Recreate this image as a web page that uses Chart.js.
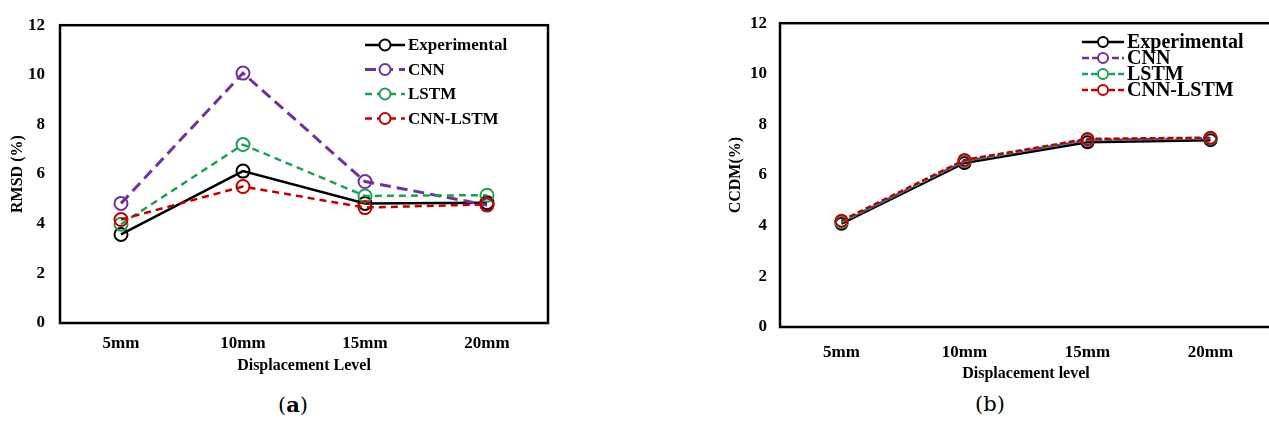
<!DOCTYPE html>
<html>
<head>
<meta charset="utf-8">
<script src="https://cdn.jsdelivr.net/npm/chart.js@4.4.1/dist/chart.umd.min.js"></script>
<style>
    html, body { margin: 0; padding: 0; background: #fff; }
    body { width: 1269px; height: 426px; overflow: hidden; position: relative; }
    .box { position: absolute; }
    .caption { position: absolute; top: 392px; font-family: "DejaVu Serif", serif; font-size: 21px; color: #000; }
</style>
</head>
<body>
<div class="box" id="boxA" style="left:0;top:0;width:560px;height:380px;"><canvas id="chartA"></canvas></div>
<div class="box" id="boxB" style="left:720px;top:0;width:560px;height:390px;"><canvas id="chartB"></canvas></div>
<div class="caption" style="left:278px;">(<b>a</b>)</div>
<div class="caption" style="left:975px;">(b)</div>

<script>
// Data
const levels = ['5mm', '10mm', '15mm', '20mm'];
const seriesNames = ['Experimental', 'CNN', 'LSTM', 'CNN-LSTM'];

// (a) RMSD (%)
const rmsdExperimental = [3.57, 6.12, 4.82, 4.85];
const rmsdCnn = [4.82, 10.07, 5.7, 4.75];
const rmsdLstm = [3.98, 7.19, 5.12, 5.15];
const rmsdCnnLstm = [4.17, 5.5, 4.65, 4.78];

// (b) CCDM (%)
const ccdmExperimental = [4.08, 6.48, 7.3, 7.38];
const ccdmCnn = [4.14, 6.55, 7.38, 7.45];
const ccdmLstm = [4.15, 6.56, 7.4, 7.46];
const ccdmCnnLstm = [4.2, 6.6, 7.43, 7.48];

const yTicks = [0, 2, 4, 6, 8, 10, 12];

const colors = ['#000000', '#7030A0', '#1FA050', '#C00000'];

const FONT = '"Liberation Serif", "Times New Roman", serif';

// frame round the plot area + legend drawn inside it
const framePlugin = {
    id: 'frame',
    afterDraw(chart, args, opts) {
        const ctx = chart.ctx;
        const a = chart.chartArea;
        ctx.save();
        ctx.strokeStyle = '#000';
        ctx.lineWidth = opts.lineWidth;
        ctx.strokeRect(a.left, a.top, a.right - a.left, a.bottom - a.top);

        // legend
        const lg = opts.legend;
        ctx.font = 'bold ' + lg.fontSize + 'px ' + FONT;
        ctx.textBaseline = 'middle';
        ctx.textAlign = 'left';
        chart.data.datasets.forEach((ds, i) => {
            const y = lg.y + i * lg.step;
            ctx.strokeStyle = ds.borderColor;
            ctx.lineWidth = ds.borderWidth;
            ctx.setLineDash(ds.borderDash || []);
            ctx.beginPath();
            ctx.moveTo(lg.x, y);
            ctx.lineTo(lg.x + lg.lineLen, y);
            ctx.stroke();
            ctx.setLineDash([]);
            ctx.lineWidth = 2;
            ctx.beginPath();
            ctx.arc(lg.x + lg.lineLen / 2, y, lg.r, 0, Math.PI * 2);
            ctx.fillStyle = '#fff';
            ctx.fill();
            ctx.stroke();
            ctx.fillStyle = '#000';
            ctx.fillText(ds.label, lg.x + lg.lineLen + 3, y + 1);
        });
        ctx.restore();
    }
};

function makeDatasets(values, dashes, widths, radius) {
    return values.map((v, i) => ({
        label: seriesNames[i],
        data: v,
        borderColor: colors[i],
        borderWidth: widths[i],
        borderDash: dashes[i],
        pointRadius: radius,
        pointBorderWidth: 2,
        pointBackgroundColor: 'rgba(255,255,255,0)',
        pointBorderColor: colors[i],
        tension: 0,
        fill: false,
        order: 3 - i
    }));
}

function makeChart(id, datasets, cfg) {
    const ctx = document.getElementById(id).getContext('2d');
    return new Chart(ctx, {
        type: 'line',
        data: { labels: levels, datasets: datasets },
        plugins: [framePlugin],
        options: {
            responsive: true,
            maintainAspectRatio: false,
            animation: false,
            layout: { padding: { top: cfg.top, right: cfg.right, left: 0, bottom: 0 } },
            plugins: {
                legend: { display: false },
                tooltip: { enabled: false },
                frame: { lineWidth: 2.5, legend: cfg.legend }
            },
            scales: {
                x: {
                    offset: true,
                    grid: { display: false, drawTicks: false },
                    border: { display: false },
                    ticks: { color: '#000', padding: cfg.xPad, font: { family: FONT, size: 17, weight: 'bold' } },
                    title: {
                        display: true, text: cfg.xTitle, color: '#000',
                        padding: { top: 0, bottom: cfg.xTitlePad },
                        font: { family: FONT, size: 16, weight: 'bold' }
                    },
                    afterFit: s => { s.height = cfg.xHeight; }
                },
                y: {
                    min: 0,
                    max: 12,
                    afterBuildTicks: s => { s.ticks = yTicks.map(v => ({ value: v })); },
                    grid: { display: false, drawTicks: false },
                    border: { display: false },
                    ticks: { color: '#000', padding: cfg.yPad, font: { family: FONT, size: 17, weight: 'bold' } },
                    title: {
                        display: true, text: cfg.yTitle, color: '#000',
                        padding: { top: cfg.yTitlePad, bottom: 0 },
                        font: { family: FONT, size: 16, weight: 'bold' }
                    },
                    afterFit: s => { s.width = 60; }
                }
            }
        }
    });
}

makeChart('chartA',
    makeDatasets([rmsdExperimental, rmsdCnn, rmsdLstm, rmsdCnnLstm],
        [[], [11, 6], [7, 5], [7, 5]], [2.5, 3, 2.5, 2.5], 6.5),
    {
        top: 21, right: 12, xHeight: 57, xPad: 10, xTitlePad: 5, yPad: 15, yTitlePad: 8,
        xTitle: 'Displacement Level', yTitle: 'RMSD (%)',
        legend: { x: 365, y: 45, step: 24.5, lineLen: 40, r: 5.5, fontSize: 17 }
    });

makeChart('chartB',
    makeDatasets([ccdmExperimental, ccdmCnn, ccdmLstm, ccdmCnnLstm],
        [[], [7, 3], [6, 3], [6, 3]], [2.5, 2.5, 2.5, 2.5], 6),
    {
        top: 17, right: 7, xHeight: 63, xPad: 15, xTitlePad: 7, yPad: 13, yTitlePad: 6,
        xTitle: 'Displacement level', yTitle: 'CCDM(%)',
        legend: { x: 362, y: 42, step: 16, lineLen: 42, r: 5, fontSize: 20 }
    });
</script>
</body>
</html>
